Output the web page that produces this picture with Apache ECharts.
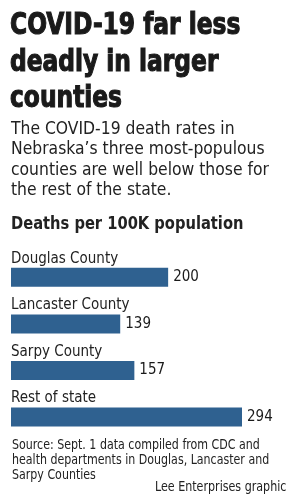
<!DOCTYPE html>
<html><head><meta charset="utf-8">
<script src="https://cdn.jsdelivr.net/npm/echarts@6/dist/echarts.min.js"></script>
<style>html,body{margin:0;padding:0;background:#fff}#c{width:300px;height:500px}</style>
</head><body><div id="c"></div>
<script>
const categories = ["Douglas County", "Lancaster County", "Sarpy County", "Rest of state"];
const deaths = [200, 139, 157, 294];
const titleText = "COVID-19 far less\ndeadly in larger\ncounties";
const subtitleText = "The COVID-19 death rates in\nNebraska\u2019s three most-populous\ncounties are well below those for\nthe rest of the state.";
const unitText = "Deaths per 100K population";
const sourceText = "Source: Sept. 1 data compiled from CDC and\nhealth departments in Douglas, Lancaster and\nSarpy Counties";
const creditText = "Lee Enterprises graphic";

const COND = "'Liberation Sans Narrow','DejaVu Sans Condensed','Roboto Condensed',Roboto,sans-serif";
const chart = echarts.init(document.getElementById('c'), null, {renderer: 'canvas'});
chart.setOption({
  animation: false,
  graphic: [
    {type: 'text', x: 10, y: 8, scaleX: 0.865, style: {text: titleText, font: "bold 30px " + COND, fill: '#1a1a1a', stroke: '#1a1a1a', lineWidth: 1.1, lineHeight: 36.5}},
    {type: 'text', x: 11, y: 119, scaleX: 1.02, style: {text: subtitleText, font: "17px " + COND, fill: '#222', lineHeight: 20.5}},
    {type: 'text', x: 11, y: 216, scaleX: 0.96, style: {text: unitText, font: "bold 17px " + COND, fill: '#222'}},
    {type: 'text', x: 12, y: 438, scaleX: 0.91, style: {text: sourceText, font: "13.5px " + COND, fill: '#222', lineHeight: 15}},
    {type: 'text', x: 155, y: 480, scaleX: 0.915, style: {text: creditText, font: "13.5px " + COND, fill: '#222'}}
  ],
  grid: {left: 11, top: 254, width: 275, height: 186.4},
  xAxis: {type: 'value', min: 0, max: 350, show: false},
  yAxis: {
    type: 'category', data: categories, inverse: true,
    axisLine: {show: false}, axisTick: {show: false},
    axisLabel: {inside: true, margin: 0, verticalAlign: 'bottom', padding: [0, 0, 11, 0], fontSize: 15, fontFamily: COND, color: '#222'}
  },
  series: [{
    type: 'bar', data: deaths, barWidth: 19,
    itemStyle: {color: '#2f6190'},
    label: {show: true, position: 'right', distance: 5, fontSize: 15, fontFamily: COND, color: '#1a1a1a'}
  }]
});
</script></body></html>
